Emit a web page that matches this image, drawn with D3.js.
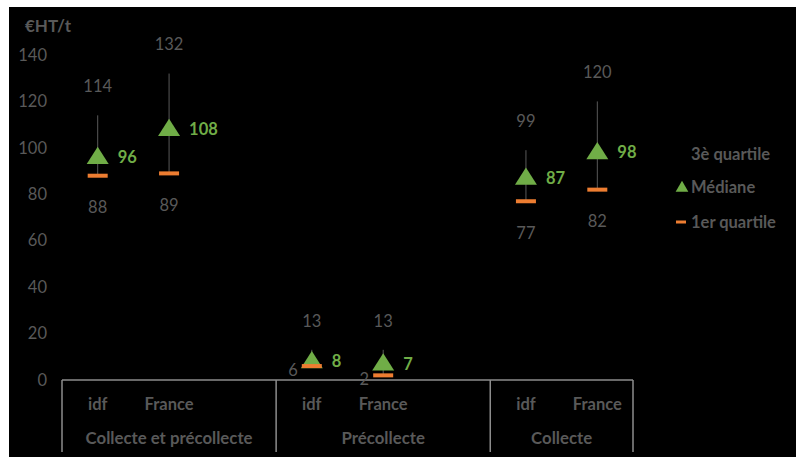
<!DOCTYPE html>
<html><head><meta charset="utf-8">
<script src="https://cdn.jsdelivr.net/npm/d3@7"></script>
<style>html,body{margin:0;padding:0;background:#fff;}svg{display:block;}</style>
</head><body>
<svg id="chart" width="800" height="457"></svg>
<script>
const groups = ["Collecte et précollecte", "Précollecte", "Collecte"];
const subcats = ["idf", "France"];
const q3 = [114, 132, 13, 13, 99, 120];
const median = [96, 108, 8, 7, 87, 98];
const q1 = [88, 89, 6, 2, 77, 82];
const yTicks = [0, 20, 40, 60, 80, 100, 120, 140];
const yTitle = "€HT/t";
const legendLabels = ["3è quartile", "Médiane", "1er quartile"];

const svg = d3.select("#chart");
const FONT = "Lato, 'Open Sans', sans-serif";
const GRAY = "#595959";
const GREEN = "#70AD47";
const ORANGE = "#ED7D31";

svg.append("rect").attr("x", 9).attr("y", 7).attr("width", 787).attr("height", 450).attr("fill", "#000");

// slots: each group gets its subcats plus an empty gap slot (except last)
const slots = [];
const points = [];
groups.forEach((g, gi) => {
  subcats.forEach((s, si) => {
    const key = g + "|" + s;
    slots.push(key);
    points.push({key, group: g, sub: s, q3: q3[gi * 2 + si], med: median[gi * 2 + si], q1: q1[gi * 2 + si]});
  });
  if (gi < groups.length - 1) slots.push(g + "|gap");
});

const x = d3.scaleBand().domain(slots).range([62, 633]).padding(0);
const y = d3.scaleLinear().domain([0, 140]).range([380, 55]);

// y axis
const yAxis = svg.append("g").attr("transform", "translate(62,0)")
  .call(d3.axisLeft(y).tickValues(yTicks).tickSize(0).tickPadding(15));
yAxis.select(".domain").remove();
yAxis.selectAll("text").attr("fill", GRAY).style("font-family", FONT).style("font-size", "16.5px");

svg.append("text").attr("x", 25).attr("y", 26).attr("dy", "0.35em")
  .attr("fill", GRAY).style("font-family", FONT).style("font-size", "17px").style("font-weight", "bold")
  .text(yTitle);

// x axis line and separators
const axisColor = "#8c8c8c";
svg.append("line").attr("x1", x.range()[0]).attr("x2", x.range()[1]).attr("y1", y(0)).attr("y2", y(0))
  .attr("stroke", axisColor).attr("stroke-width", 1.5);
const bounds = [x.range()[0]];
groups.forEach((g, gi) => {
  const gSlots = slots.filter(s => s.startsWith(g + "|"));
  bounds.push(x(gSlots[gSlots.length - 1]) + x.bandwidth());
});
bounds.forEach(b => {
  svg.append("line").attr("x1", b).attr("x2", b).attr("y1", y(0)).attr("y2", 452)
    .attr("stroke", axisColor).attr("stroke-width", 1.5);
});

// sub-category labels
svg.selectAll(".sub").data(points).join("text")
  .attr("x", d => x(d.key) + x.bandwidth() / 2).attr("y", 404).attr("dy", "0.35em")
  .attr("text-anchor", "middle").attr("fill", GRAY)
  .style("font-family", FONT).style("font-size", "16.5px").style("font-weight", "bold")
  .text(d => d.sub);
// group labels
svg.selectAll(".grp").data(groups).join("text")
  .attr("x", (d, i) => (bounds[i] + bounds[i + 1]) / 2).attr("y", 438).attr("dy", "0.35em")
  .attr("text-anchor", "middle").attr("fill", GRAY)
  .style("font-family", FONT).style("font-size", "16.8px").style("font-weight", "bold")
  .text(d => d);

const cx = d => x(d.key) + x.bandwidth() / 2;

// whiskers
svg.selectAll(".wh").data(points).join("line")
  .attr("x1", cx).attr("x2", cx).attr("y1", d => y(d.q3)).attr("y2", d => y(d.q1))
  .attr("stroke", "#595959").attr("stroke-width", 1);

// median triangles
const tri = d3.symbol().type(d3.symbolTriangle).size(190);
svg.selectAll(".med").data(points).join("path")
  .attr("d", tri)
  .attr("transform", d => `translate(${cx(d)},${y(d.med) + 1}) scale(1.05,0.95)`)
  .attr("fill", GREEN);

// Q1 dashes (drawn over triangles)
svg.selectAll(".q1").data(points).join("rect")
  .attr("x", d => cx(d) - 10).attr("y", d => y(d.q1) - 2).attr("width", 20).attr("height", 4)
  .attr("fill", ORANGE);

// Q3 labels
svg.selectAll(".q3l").data(points).join("text")
  .attr("x", cx).attr("y", d => y(d.q3) - 29).attr("dy", "0.35em")
  .attr("text-anchor", "middle").attr("fill", GRAY)
  .style("font-family", FONT).style("font-size", "16.5px")
  .text(d => d.q3);

// Q1 labels: below, or left when too close to the axis
svg.selectAll(".q1l").data(points).join("text")
  .attr("x", d => d.q1 < 20 ? cx(d) - 14 : cx(d))
  .attr("y", d => d.q1 < 20 ? y(d.q1) + 4 : y(d.q1) + 32).attr("dy", "0.35em")
  .attr("text-anchor", d => d.q1 < 20 ? "end" : "middle").attr("fill", GRAY)
  .style("font-family", FONT).style("font-size", "16.5px")
  .text(d => d.q1);

// median labels
svg.selectAll(".medl").data(points).join("text")
  .attr("x", d => cx(d) + 20).attr("y", d => y(d.med)).attr("dy", "0.35em")
  .attr("fill", GREEN)
  .style("font-family", FONT).style("font-size", "16.5px").style("font-weight", "bold")
  .text(d => d.med);

// legend
const lg = svg.append("g");
const legY = [154, 187, 222];
legendLabels.forEach((t, i) => {
  lg.append("text").attr("x", 691).attr("y", legY[i]).attr("dy", "0.35em")
    .attr("fill", GRAY).style("font-family", FONT).style("font-size", "16.5px").style("font-weight", "bold")
    .text(t);
});
lg.append("path").attr("d", d3.symbol().type(d3.symbolTriangle).size(70))
  .attr("transform", `translate(682,${legY[1] + 1})`).attr("fill", GREEN);
lg.append("rect").attr("x", 676).attr("y", legY[2] - 1.5).attr("width", 10).attr("height", 3).attr("fill", ORANGE);
</script>
</body></html>
